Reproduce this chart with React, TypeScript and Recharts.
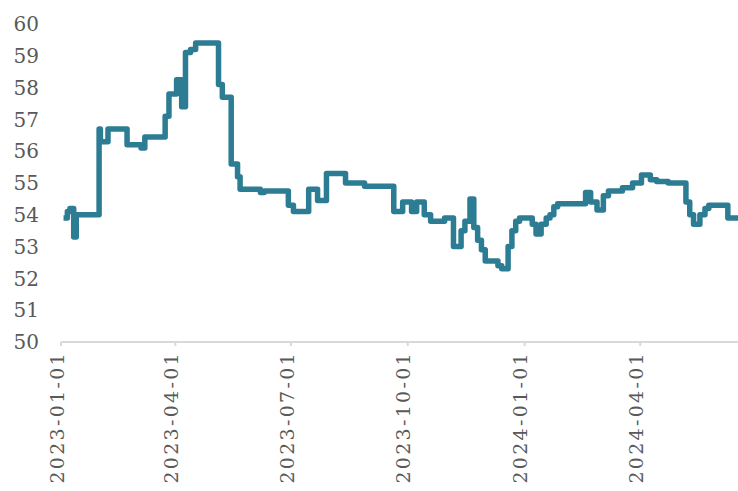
import React from 'react'
import { LineChart, Line, XAxis, YAxis } from 'recharts'

// days counted from 2023-01-01; each value holds until the next day listed
const days = [
  2, 5, 7, 10, 12, 30, 31, 37, 52, 63, 66, 82, 85, 91, 95, 98, 102, 106, 124, 127,
  134, 139, 141, 157, 160, 179, 183, 195, 202, 209, 224, 239, 262, 269, 276, 280, 286, 291, 302, 309,
  315, 318, 322, 325, 328, 331, 334, 344, 347, 352, 355, 358, 361, 371, 374, 378, 382, 385, 388, 391,
  413, 417, 422, 427, 431, 442, 450, 457, 464, 469, 478, 492, 495, 498, 503, 507, 510, 525, 533
]

const values = [
  53.9, 54.1, 54.2, 53.3, 54.0, 56.7, 56.3, 56.7, 56.2, 56.1, 56.45, 57.1, 57.8, 58.25, 57.4, 59.1, 59.2, 59.4, 58.1, 57.7,
  55.6, 55.2, 54.8, 54.7, 54.75, 54.3, 54.1, 54.8, 54.45, 55.3, 55.0, 54.9, 54.1, 54.4, 54.1, 54.4, 54.0, 53.8, 53.9, 53.0,
  53.5, 53.8, 54.5, 53.6, 53.2, 52.9, 52.55, 52.4, 52.3, 53.0, 53.5, 53.8, 53.9, 53.7, 53.4, 53.7, 53.9, 54.0, 54.25, 54.35,
  54.7, 54.4, 54.15, 54.6, 54.75, 54.85, 55.0, 55.25, 55.1, 55.05, 55.0, 54.4, 54.0, 53.7, 54.0, 54.2, 54.3, 53.9, 53.9
]

const tickDays = [0, 90, 181, 273, 365, 456]
const tickLabels = ['2023-01-01', '2023-04-01', '2023-07-01', '2023-10-01', '2024-01-01', '2024-04-01']
const yTicks = [50, 51, 52, 53, 54, 55, 56, 57, 58, 59, 60]

const data = days.map((d, i) => ({ day: d, value: values[i] }))

const DateTick = (props: any) => {
  const { x, y, payload } = props
  const idx = tickDays.indexOf(payload.value)
  return (
    <g transform={`translate(${x - 4},${y + 3}) rotate(-90)`}>
      <text
        x={0}
        y={0}
        dy="0.35em"
        textAnchor="end"
        fill="#595959"
        fontSize={19}
        letterSpacing={2.3}
        fontFamily="DejaVu Serif"
      >
        {idx >= 0 ? tickLabels[idx] : ''}
      </text>
    </g>
  )
}

export default function App() {
  return (
    <div style={{ position: 'absolute', left: 0, top: 0, background: '#fff' }}>
      <LineChart width={738} height={491} data={data} margin={{ top: 24, right: 0, bottom: 0, left: 0 }}>
        <XAxis
          dataKey="day"
          type="number"
          domain={[0, 533]}
          ticks={tickDays}
          tick={<DateTick />}
          height={149}
          stroke="#d9d9d9"
          strokeWidth={2}
          tickSize={4}
          interval={0}
        />
        <YAxis
          domain={[50, 60]}
          ticks={yTicks}
          width={61}
          axisLine={false}
          tickLine={false}
          tickSize={0}
          tickMargin={22}
          interval={0}
          tick={{ fill: '#595959', fontSize: 20, fontFamily: 'DejaVu Serif' }}
        />
        <Line
          type="stepAfter"
          dataKey="value"
          stroke="#2c7c93"
          strokeWidth={5.5}
          strokeLinejoin="round"
          dot={false}
          isAnimationActive={false}
        />
      </LineChart>
    </div>
  )
}
